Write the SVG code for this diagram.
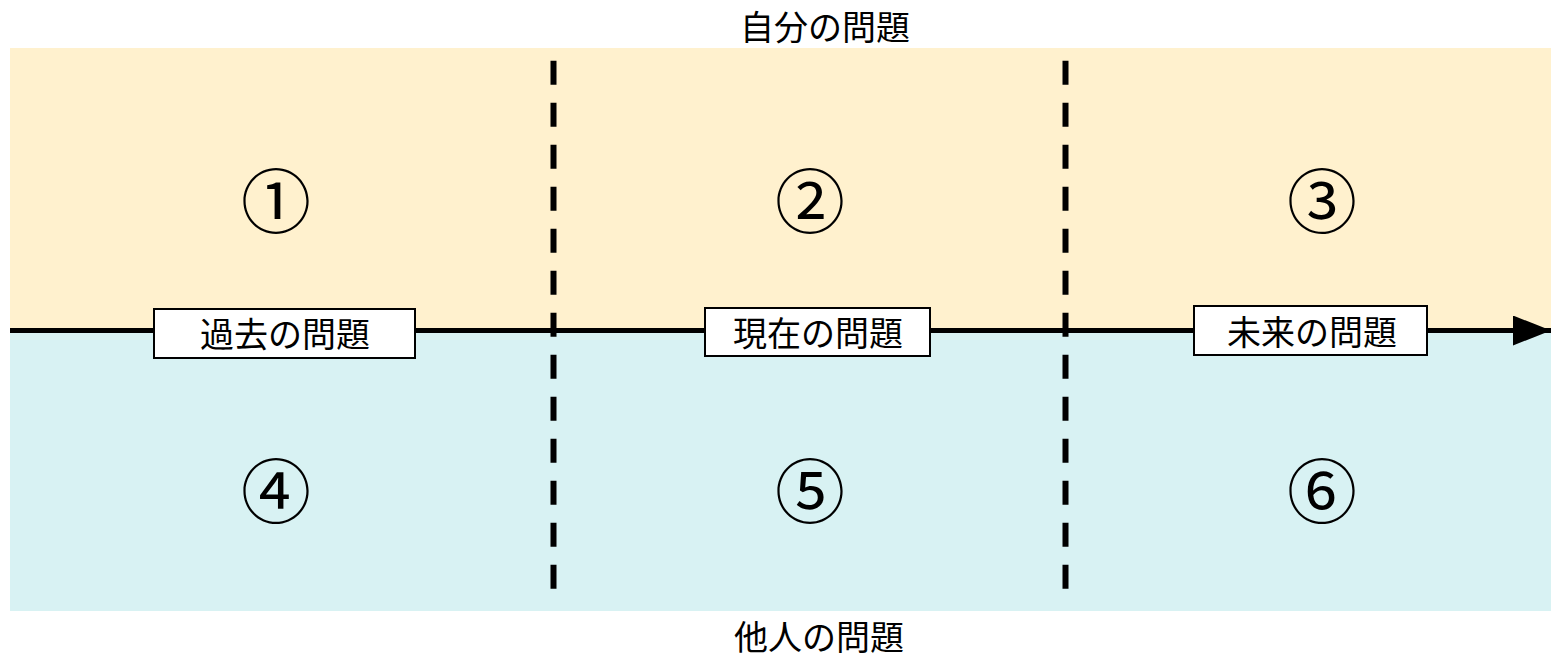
<svg xmlns="http://www.w3.org/2000/svg" width="1551" height="657" viewBox="0 0 1551 657">
<style>
.t{font-family:"Noto Sans CJK JP","Noto Sans CJK SC",sans-serif;fill:#000;text-anchor:middle;dominant-baseline:central}
.lab{font-size:34px}
.num{font-size:70px}
.box{fill:#fff;stroke:#000;stroke-width:2}
.dash{stroke:#000;stroke-width:6;stroke-dasharray:24 18;fill:none}
</style>
<defs>
<marker id="arr" markerUnits="userSpaceOnUse" markerWidth="40" markerHeight="32" refX="38" refY="15" orient="auto">
<path d="M0,0 L38,15 L0,30 Z" fill="#000"/>
</marker>
</defs>
<g id="background">
<rect x="10" y="48" width="1541" height="283" fill="#FFF1CE"/>
<rect x="10" y="331" width="1541" height="280" fill="#D8F2F3"/>
</g>
<g id="titles">
<text id="top-title" class="t lab" x="825" y="25">自分の問題</text>
<text id="bottom-title" class="t lab" x="819" y="635">他人の問題</text>
</g>
<g id="connectors">
<line x1="10" y1="330.5" x2="1551" y2="330.5" stroke="#000" stroke-width="5" marker-end="url(#arr)"/>
<line class="dash" x1="553.5" y1="60.7" x2="553.5" y2="589"/>
<line class="dash" x1="1065.5" y1="60.7" x2="1065.5" y2="589"/>
</g>
<g id="n1"><text class="t num" x="276" y="197">①</text></g>
<g id="n2"><text class="t num" x="810" y="197">②</text></g>
<g id="n3"><text class="t num" x="1322" y="197">③</text></g>
<g id="n4"><text class="t num" x="276" y="487">④</text></g>
<g id="n5"><text class="t num" x="810" y="487">⑤</text></g>
<g id="n6"><text class="t num" x="1322" y="487">⑥</text></g>
<g id="past"><rect class="box" x="154" y="309" width="261" height="49"/><text class="t lab" x="285" y="332">過去の問題</text></g>
<g id="present"><rect class="box" x="705" y="308" width="225" height="48"/><text class="t lab" x="818" y="331">現在の問題</text></g>
<g id="future"><rect class="box" x="1194" y="306" width="233" height="49"/><text class="t lab" x="1312" y="330">未来の問題</text></g>
</svg>
